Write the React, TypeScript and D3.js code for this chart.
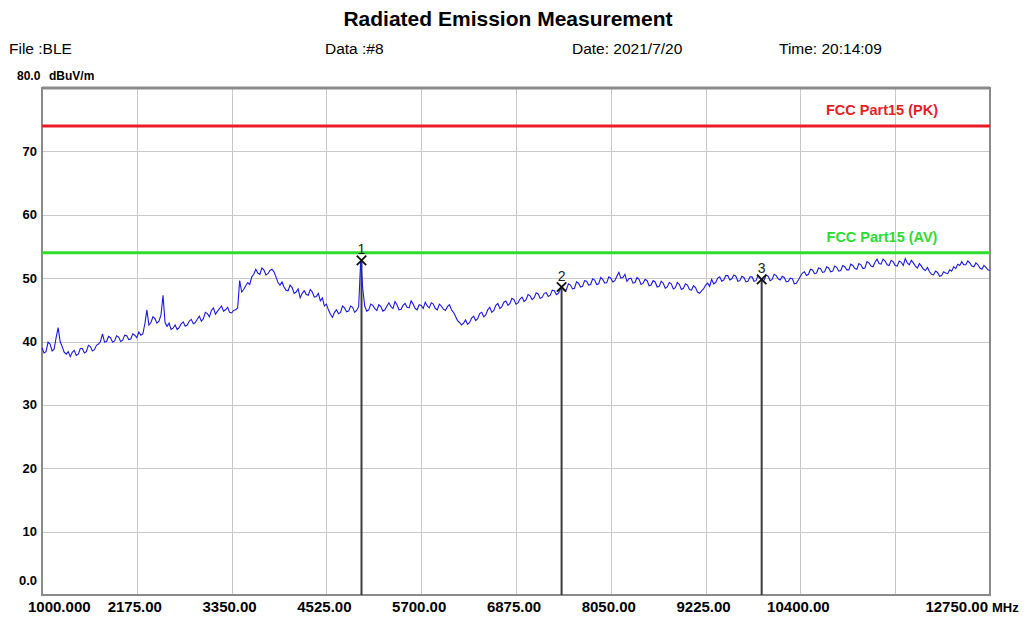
import React, { useEffect, useRef } from "react";
import * as d3 from "d3";

// axis ticks
const xTickValues = [1000, 2175, 3350, 4525, 5700, 6875, 8050, 9225, 10400, 11575, 12750];
const xTickLabels = ["1000.000", "2175.00", "3350.00", "4525.00", "5700.00", "6875.00", "8050.00", "9225.00", "10400.00", "", "12750.00"];
const yTickValues = [0, 10, 20, 30, 40, 50, 60, 70];
const yTickLabels = ["0.0", "10", "20", "30", "40", "50", "60", "70"];

// sweep: 1000 MHz start, 25 MHz per point
const sweepStart = 1000;
const sweepStep = 25;
const traceLevels = [
  39.0, 38.2, 38.4, 39.9, 39.6, 38.5, 38.8, 40.6, 42.2, 40.0,
  39.2, 38.3, 38.0, 38.4, 37.6, 38.3, 38.6, 37.8, 38.0, 38.9,
  38.9, 38.2, 38.4, 39.4, 39.2, 38.5, 38.7, 39.4, 39.6, 40.0,
  41.2, 39.9, 40.0, 40.8, 40.6, 39.9, 40.1, 40.9, 40.7, 40.0,
  40.2, 41.0, 40.9, 40.3, 40.4, 41.2, 41.0, 40.6, 41.5, 41.0,
  41.2, 42.8, 45.0, 42.6, 43.0, 43.9, 43.6, 42.9, 43.2, 44.2,
  47.3, 43.0, 42.4, 42.9, 41.9, 42.1, 42.6, 41.9, 42.2, 42.8,
  43.1, 42.4, 42.6, 43.2, 43.5, 42.8, 43.0, 43.5, 44.0, 43.2,
  43.6, 44.6, 44.4, 43.9, 44.9, 45.3, 44.3, 44.8, 45.2, 45.6,
  44.8, 45.0, 45.4, 44.6, 44.5, 44.9, 45.0, 45.3, 49.6, 47.8,
  48.2, 48.8, 49.3, 49.0, 50.2, 50.6, 51.4, 50.8, 50.6, 51.6,
  51.3, 50.5, 50.7, 51.2, 51.4, 51.0, 50.2, 49.3, 48.9, 49.4,
  48.6, 48.1, 48.0, 48.9, 48.5, 47.6, 47.8, 48.3, 46.9, 47.6,
  48.0, 47.4, 47.3, 48.2, 47.8, 47.0, 47.1, 47.6, 46.4, 46.9,
  45.6, 45.9, 45.0, 44.3, 43.8, 44.6, 45.0, 44.4, 44.6, 45.6,
  45.3, 44.7, 44.8, 45.6, 45.4, 44.6, 44.9, 45.5, 52.8, 48.4,
  45.6, 44.8, 45.0, 45.9, 45.7, 45.2, 44.9, 45.8, 45.5, 44.8,
  45.0, 45.6, 46.1, 45.5, 45.2, 46.3, 45.8, 45.0, 45.1, 45.7,
  46.0, 45.4, 45.3, 46.4, 45.9, 45.2, 45.0, 45.8, 45.7, 45.2,
  46.2, 45.6, 45.3, 46.1, 45.9, 45.2, 45.0, 45.9, 45.6, 45.1,
  44.9, 45.5, 45.8, 45.0, 44.6, 44.0, 43.3, 43.0, 42.6, 42.9,
  43.4, 42.7, 43.0, 43.7, 44.0, 43.3, 43.6, 44.4, 44.6, 43.9,
  44.2, 45.0, 45.4, 44.6, 44.9, 45.7, 46.0, 45.2, 45.5, 46.2,
  46.4, 45.7, 46.0, 46.8, 46.6, 45.9, 46.1, 46.7, 47.0, 46.3,
  46.6, 47.4, 47.2, 46.6, 46.9, 47.7, 47.5, 46.8, 47.0, 47.6,
  47.7, 47.1, 47.3, 48.1, 48.0, 47.4, 47.6, 48.3, 48.5, 48.0,
  48.2, 49.1, 48.9, 48.3, 48.4, 49.4, 49.2, 48.6, 48.7, 49.6,
  49.5, 48.9, 49.0, 49.9, 49.7, 49.0, 49.1, 50.1, 49.8, 49.2,
  49.3, 50.2, 50.0, 49.4, 49.6, 50.3, 50.9, 50.0, 50.1, 50.6,
  49.5, 49.9, 50.0, 49.2, 49.3, 50.1, 49.8, 49.0, 49.2, 49.8,
  49.6, 48.8, 48.9, 49.6, 49.4, 48.6, 48.7, 49.5, 49.2, 48.4,
  48.6, 49.3, 49.1, 48.3, 48.5, 49.3, 49.0, 48.2, 48.4, 49.1,
  48.9, 48.2, 48.1, 48.8, 48.5, 47.8, 47.6, 48.0, 48.3, 48.9,
  49.2, 48.7, 49.8, 49.1, 49.3, 50.0, 50.2, 49.5, 49.7, 50.4,
  50.4, 49.7, 49.9, 50.5, 50.3, 49.5, 49.6, 50.3, 50.1, 49.4,
  49.5, 50.2, 50.2, 49.5, 49.6, 50.4, 50.0, 49.6, 49.7, 50.5,
  50.3, 49.6, 49.8, 50.6, 50.4, 49.9, 49.7, 50.3, 50.1, 49.4,
  49.5, 50.0, 49.9, 49.1, 49.2, 49.7, 50.3, 50.8, 51.0, 50.4,
  50.6, 51.4, 51.3, 50.7, 50.8, 51.6, 51.5, 50.9, 51.0, 51.8,
  51.6, 51.0, 51.1, 51.9, 51.7, 51.1, 51.2, 52.0, 51.8, 51.3,
  51.3, 52.2, 52.0, 51.5, 51.4, 52.3, 52.1, 51.5, 51.6, 52.6,
  52.4, 51.9, 51.8, 52.5, 53.0, 52.3, 52.2, 53.0, 52.7, 52.1,
  52.0, 52.8, 52.6, 52.0, 51.9, 52.7, 52.5, 52.0, 53.1, 52.4,
  52.1, 52.8, 52.4, 51.9, 51.6, 52.3, 51.9, 51.4, 51.2, 51.7,
  51.0, 50.6, 50.5, 51.1, 50.9, 50.3, 50.4, 51.0, 50.8, 50.7,
  51.3, 51.1, 51.8, 51.5, 52.2, 52.0, 52.6, 52.1, 52.1, 52.7,
  52.4, 51.9, 51.8, 52.4, 52.1, 51.6, 51.4, 52.0, 51.7, 51.3,
  51.2,
];

// limit lines
const limitNames = ["FCC Part15 (PK)", "FCC Part15 (AV)"];
const limitLevels = [74, 54];
const limitColors = ["#ec1c24", "#2edc2e"];

// markers
const markerIds = ["1", "2", "3"];
const markerFreqs = [4960, 7440, 9920];
const markerLevels = [52.8, 48.6, 49.8];

const FONT = "'Liberation Sans', Arial, sans-serif";

const App: React.FC = () => {
  const ref = useRef<SVGSVGElement>(null);

  useEffect(() => {
    const width = 1024,
      height = 617;
    const left = 42,
      right = 990,
      top = 88,
      bottom = 595;

    const svg = d3.select(ref.current);
    svg.selectAll("*").remove();
    svg.attr("width", width).attr("height", height);

    const x = d3.scaleLinear().domain([1000, 12750]).range([left, right]);
    const y = d3.scaleLinear().domain([0, 80]).range([bottom, top]);

    // header
    svg
      .append("text")
      .attr("x", 508)
      .attr("y", 26)
      .attr("text-anchor", "middle")
      .style("font-family", FONT)
      .style("font-size", "21px")
      .style("font-weight", "bold")
      .text("Radiated Emission Measurement");

    const header = [
      { x: 9, t: "File :BLE" },
      { x: 325, t: "Data :#8" },
      { x: 572, t: "Date: 2021/7/20" },
      { x: 779, t: "Time: 20:14:09" },
    ];
    svg
      .selectAll(".hdr")
      .data(header)
      .enter()
      .append("text")
      .attr("x", (d) => d.x)
      .attr("y", 54)
      .style("font-family", FONT)
      .style("font-size", "15.5px")
      .text((d) => d.t);

    svg
      .append("text")
      .attr("x", 17)
      .attr("y", 80)
      .style("font-family", FONT)
      .style("font-size", "12px")
      .style("font-weight", "bold")
      .text("80.0");
    svg
      .append("text")
      .attr("x", 49)
      .attr("y", 80)
      .style("font-family", FONT)
      .style("font-size", "12px")
      .style("font-weight", "bold")
      .text("dBuV/m");

    // grid
    const grid = svg.append("g").attr("stroke", "#c8c8c8").attr("stroke-width", 1);
    xTickValues.slice(1, -1).forEach((v) => {
      grid
        .append("line")
        .attr("x1", Math.round(x(v)) + 0.5)
        .attr("x2", Math.round(x(v)) + 0.5)
        .attr("y1", top)
        .attr("y2", bottom);
    });
    yTickValues.slice(1).forEach((v) => {
      grid
        .append("line")
        .attr("x1", left)
        .attr("x2", right)
        .attr("y1", Math.round(y(v)) + 0.5)
        .attr("y2", Math.round(y(v)) + 0.5);
    });

    // frame
    svg
      .append("rect")
      .attr("x", left)
      .attr("y", top)
      .attr("width", right - left)
      .attr("height", bottom - top)
      .attr("fill", "none")
      .attr("stroke", "#8a8a8a")
      .attr("stroke-width", 2);
    svg
      .append("line")
      .attr("x1", left)
      .attr("x2", right)
      .attr("y1", top)
      .attr("y2", top)
      .attr("stroke", "#8a8a8a")
      .attr("stroke-width", 3);

    // y labels
    svg
      .selectAll(".ylab")
      .data(yTickValues)
      .enter()
      .append("text")
      .attr("x", 37)
      .attr("y", (d) => (d === 0 ? y(d) - 15 : y(d)))
      .attr("dy", "0.35em")
      .attr("text-anchor", "end")
      .style("font-family", FONT)
      .style("font-size", "13px")
      .style("font-weight", "bold")
      .text((d, i) => yTickLabels[i]);

    // x labels
    svg
      .selectAll(".xlab")
      .data(xTickValues)
      .enter()
      .append("text")
      .attr("x", (d, i) => (i === 0 ? 28 : i === xTickValues.length - 1 ? 988 : x(d) - 2))
      .attr("y", 612)
      .attr("text-anchor", (d, i) => (i === 0 ? "start" : i === xTickValues.length - 1 ? "end" : "middle"))
      .style("font-family", FONT)
      .style("font-size", "15px")
      .style("font-weight", "bold")
      .text((d, i) => xTickLabels[i]);
    svg
      .append("text")
      .attr("x", 992)
      .attr("y", 612)
      .style("font-family", FONT)
      .style("font-size", "13px")
      .style("font-weight", "bold")
      .text("MHz");

    // limit lines
    limitLevels.forEach((lv, i) => {
      svg
        .append("line")
        .attr("x1", left)
        .attr("x2", right)
        .attr("y1", y(lv))
        .attr("y2", y(lv))
        .attr("stroke", limitColors[i])
        .attr("stroke-width", 3);
      svg
        .append("text")
        .attr("x", 882)
        .attr("y", y(lv) - 11)
        .attr("text-anchor", "middle")
        .attr("fill", limitColors[i])
        .style("font-family", FONT)
        .style("font-size", "14.5px")
        .style("font-weight", "bold")
        .text(limitNames[i]);
    });

    // marker stems
    markerFreqs.forEach((f, i) => {
      svg
        .append("line")
        .attr("x1", x(f))
        .attr("x2", x(f))
        .attr("y1", y(markerLevels[i]))
        .attr("y2", bottom)
        .attr("stroke", "#3c3c3c")
        .attr("stroke-width", 2);
    });

    // trace
    const line = d3
      .line<number>()
      .x((d, i) => x(sweepStart + i * sweepStep))
      .y((d) => y(d));
    svg
      .append("path")
      .datum(traceLevels)
      .attr("d", line)
      .attr("fill", "none")
      .attr("stroke", "#1a1ae6")
      .attr("stroke-width", 1.1);

    // marker symbols
    const sym = d3.symbol(d3.symbolX, 60);
    markerFreqs.forEach((f, i) => {
      svg
        .append("path")
        .attr("d", sym()!)
        .attr("transform", `translate(${x(f)},${y(markerLevels[i])})`)
        .attr("fill", "none")
        .attr("stroke", "#111")
        .attr("stroke-width", 1.8);
      svg
        .append("text")
        .attr("x", x(f))
        .attr("y", y(markerLevels[i]) - 6)
        .attr("text-anchor", "middle")
        .attr("fill", "#222")
        .style("font-family", FONT)
        .style("font-size", "14px")
        .text(markerIds[i]);
    });
  }, []);

  return <svg ref={ref} style={{ position: "absolute", left: 0, top: 0 }}></svg>;
};

export default App;
